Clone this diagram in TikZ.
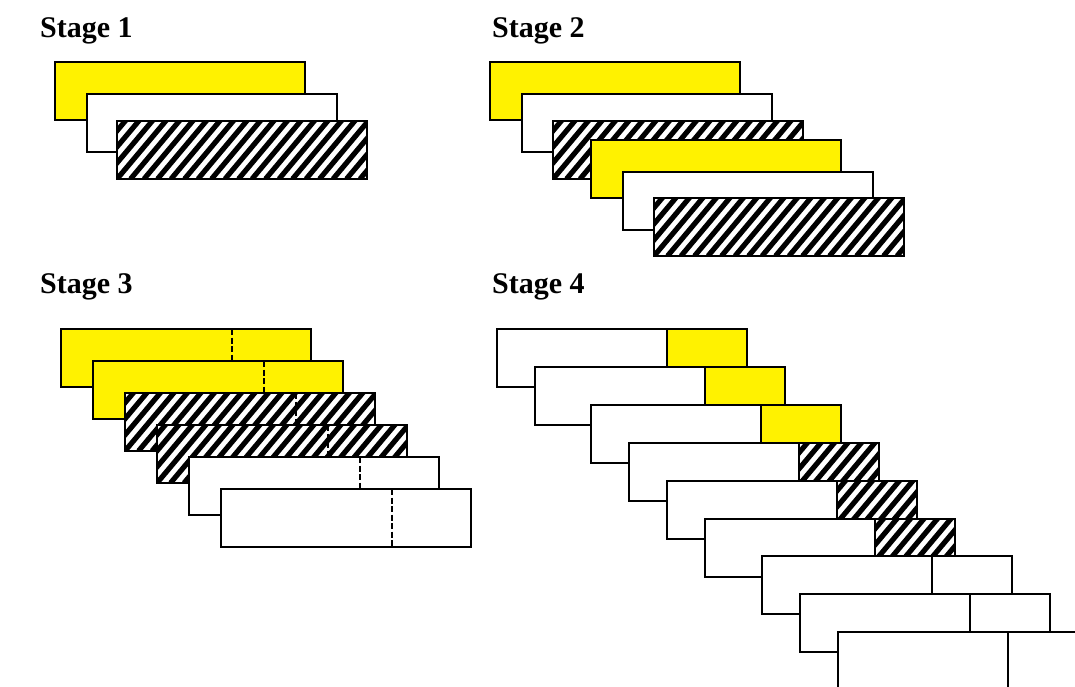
\documentclass[tikz,border=0pt]{standalone}
\usepackage{fontspec}
\setmainfont{Liberation Serif}
\usetikzlibrary{calc}
\tikzset{
  blk/.style={draw=black, line width=1.3pt, rectangle, inner sep=0pt, outer sep=0pt,
              anchor=north west, minimum height=58pt},
  full/.style={blk, minimum width=250pt},
  lpart/.style={blk, minimum width=170pt, fill=white},
  rpart/.style={blk, minimum width=80pt},
  yel/.style={fill=yellow},
  plain/.style={fill=white},
  hatch/.style={fill=white, path picture={
      \foreach \k in {-7,...,20}{
        \draw[line width=5.2pt] ([xshift=\k*13.5pt]path picture bounding box.south west) -- ++(63,-75);
      }}},
  title/.style={anchor=base west, inner sep=0pt, font=\bfseries\fontsize{30}{36}\selectfont},
  cut/.style={draw=black, line width=1.4pt, dash pattern=on 6pt off 2.5pt},
}
\begin{document}
\begin{tikzpicture}[x=1pt,y=-1pt]
\useasboundingbox (0,0) rectangle (1075,686);
\clip (0,0) rectangle (1075,686);

% headings
\node[title] (t1) at (40,37) {Stage 1};
\node[title] (t2) at (492,37) {Stage 2};
\node[title] (t3) at (40,293) {Stage 3};
\node[title] (t4) at (492,293) {Stage 4};

% stage 1: three stacked blocks
\node[full,yel]   (a1) at (55,62)   {};
\node[full,plain] (a2) at (87,94)   {};
\node[full,hatch] (a3) at (117,121) {};

% stage 2: the same triple, twice
\node[full,yel]   (b1) at (490,62)  {};
\node[full,plain] (b2) at (522,94)  {};
\node[full,hatch] (b3) at (553,121) {};
\node[full,yel]   (b4) at (591,140) {};
\node[full,plain] (b5) at (623,172) {};
\node[full,hatch] (b6) at (654,198) {};

% stage 3: blocks with a dashed cut line
\foreach \n/\x/\y/\s in {1/61/329/yel, 2/93/361/yel, 3/125/393/hatch,
                         4/157/425/hatch, 5/189/457/plain, 6/221/489/plain}{
  \node[full,\s] (c\n) at (\x,\y) {};
  \draw[cut] ($(c\n.north west)+(171,0)$) -- ($(c\n.south west)+(171,0)$);
}

% stage 4: blocks split into a white part and a marked tail
\foreach \n/\x/\y/\s in {1/497/329/yel, 2/535/367/yel, 3/591/405/yel,
                         4/629/443/hatch, 5/667/481/hatch, 6/705/519/hatch,
                         7/762/556/plain, 8/800/594/plain, 9/838/632/plain}{
  \node[lpart] (d\n) at (\x,\y) {};
  \node[rpart,\s] (e\n) at (d\n.north east) {};
}
\end{tikzpicture}
\end{document}
